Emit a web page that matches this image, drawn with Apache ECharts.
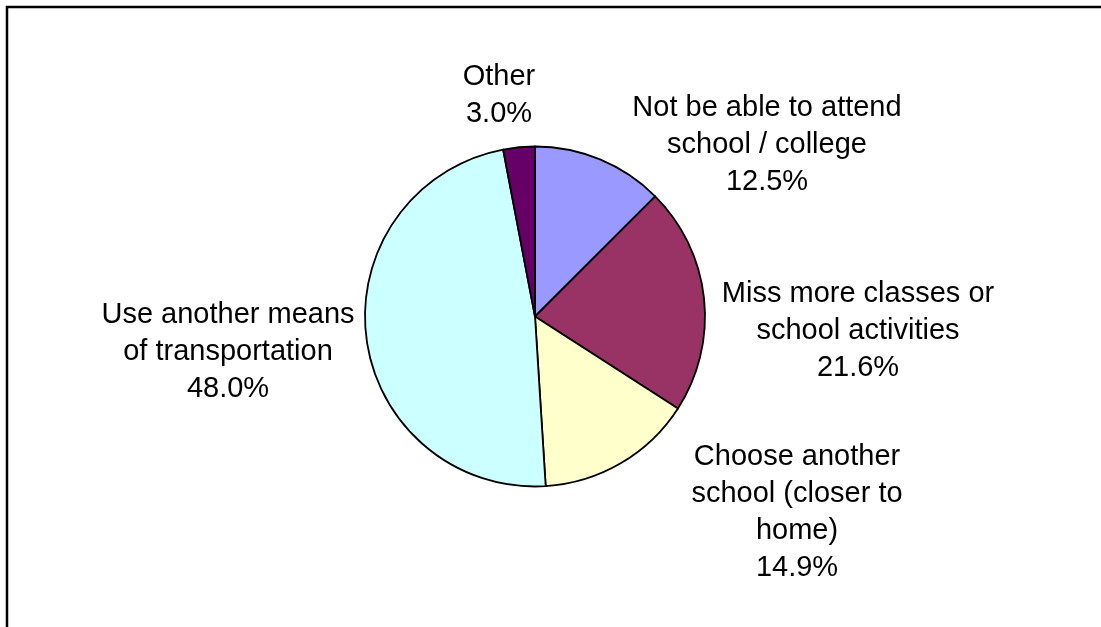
<!DOCTYPE html>
<html>
<head>
<meta charset="utf-8">
<script src="https://cdn.jsdelivr.net/npm/echarts@6/dist/echarts.min.js"></script>
<style>
  html, body { margin: 0; padding: 0; background: #fff; }
  #chart { width: 1101px; height: 627px; }
</style>
</head>
<body>
<div id="chart"></div>
<script>
// Responses, clockwise from 12 o'clock
const categories = [
  'Not be able to attend\nschool / college',
  'Miss more classes or\nschool activities',
  'Choose another\nschool (closer to\nhome)',
  'Use another means\nof transportation',
  'Other'
];
const shares = [12.5, 21.6, 14.9, 48.0, 3.0];
const sliceColors = ['#9999FF', '#993366', '#FFFFCC', '#CCFFFF', '#660066'];

// Where each label block is centred on the page
const labelCentres = [
  [767, 145],
  [858, 331],
  [797, 512],
  [228, 352],
  [499, 95]
];

const chart = echarts.init(document.getElementById('chart'), null, { renderer: 'canvas' });

chart.setOption({
  animation: false,
  backgroundColor: '#ffffff',
  graphic: [{
    type: 'rect',
    shape: { x: 7, y: 7, width: 1300, height: 900 },
    style: { fill: 'none', stroke: '#000', lineWidth: 2.5 },
    silent: true
  }],
  series: [{
    type: 'pie',
    center: [535, 316.5],
    radius: 170,
    startAngle: 90,
    clockwise: true,
    avoidLabelOverlap: false,
    emphasis: { disabled: true },
    itemStyle: { borderColor: '#000', borderWidth: 1.8 },
    label: {
      show: true,
      position: 'outside',
      fontFamily: 'Liberation Sans, Arial, sans-serif',
      fontSize: 29,
      lineHeight: 37,
      color: '#000',
      align: 'center',
      formatter: p => p.name + '\n' + p.value.toFixed(1) + '%'
    },
    labelLine: { show: false },
    labelLayout: p => ({
      x: labelCentres[p.dataIndex][0],
      y: labelCentres[p.dataIndex][1],
      align: 'center',
      verticalAlign: 'middle'
    }),
    data: categories.map((name, i) => ({
      name: name,
      value: shares[i],
      itemStyle: { color: sliceColors[i] }
    }))
  }]
});
</script>
</body>
</html>
